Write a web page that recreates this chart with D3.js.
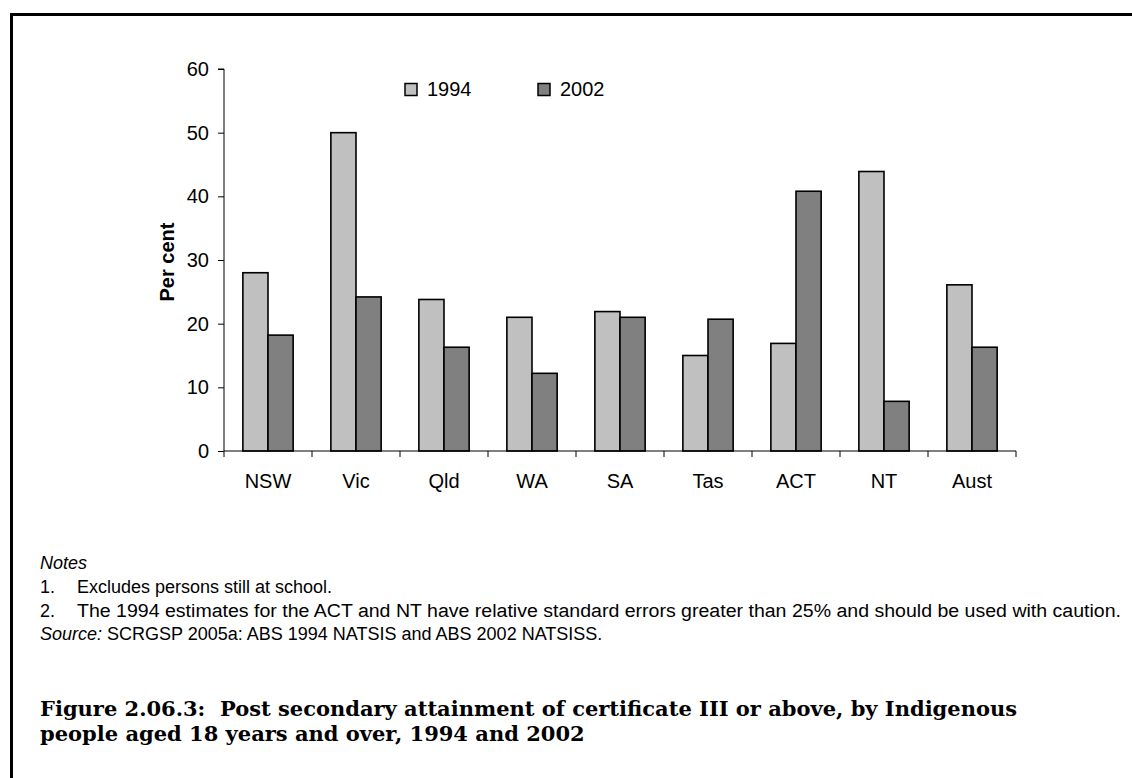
<!DOCTYPE html>
<html><head><meta charset="utf-8">
<script src="https://cdn.jsdelivr.net/npm/d3@7"></script>
<style>
html,body{margin:0;padding:0;background:#fff;}
svg{display:block;}
text{white-space:pre;}
</style></head>
<body>
<svg id="chart" width="1132" height="778"></svg>
<script>
const categories = ["NSW","Vic","Qld","WA","SA","Tas","ACT","NT","Aust"];
const seriesNames = ["1994","2002"];
const values1994 = [28, 50, 23.8, 21, 21.9, 15, 16.9, 43.9, 26.1];
const values2002 = [18.2, 24.2, 16.3, 12.2, 21, 20.7, 40.8, 7.8, 16.3];
const yTicks = [0,10,20,30,40,50,60];
const colors = ["#c0c0c0","#808080"];
const notes = ["Excludes persons still at school.",
  "The 1994 estimates for the ACT and NT have relative standard errors greater than 25% and should be used with caution."];
const sourceLabel = "Source:";
const sourceText = " SCRGSP 2005a: ABS 1994 NATSIS and ABS 2002 NATSISS.";
const titleLines = ["Figure 2.06.3:  Post secondary attainment of certificate III or above, by Indigenous",
  "people aged 18 years and over, 1994 and 2002"];

const svg = d3.select("#chart");
const sans = "'Liberation Sans', Arial, sans-serif";

// frame
svg.append("path").attr("d","M11.5,778 L11.5,14.5 L1132,14.5")
  .attr("fill","none").attr("stroke","#000").attr("stroke-width",3);

const x0 = 224, x1 = 1016, yTop = 69, yBot = 451;
const x = d3.scaleBand().domain(categories).range([x0,x1]).paddingInner(0).paddingOuter(0);
const y = d3.scaleLinear().domain([0,60]).range([yBot,yTop]);
const bw = x.bandwidth()/3.5;
const off = bw*0.75;

const data = categories.map((c,i)=>({c, v:[values1994[i], values2002[i]]}));

const g = svg.append("g");
data.forEach(d=>{
  d.v.forEach((v,j)=>{
    g.append("rect")
      .attr("x", x(d.c)+off + j*bw)
      .attr("y", y(v))
      .attr("width", bw)
      .attr("height", y(0)-y(v))
      .attr("fill", colors[j])
      .attr("stroke","#000").attr("stroke-width",1.6);
  });
});

// y axis
const yAxis = d3.axisLeft(y).tickValues(yTicks).tickSize(6).tickPadding(9).tickFormat(d3.format("d"));
const ya = svg.append("g").attr("transform",`translate(${x0},0)`).call(yAxis);
ya.select(".domain").attr("stroke","#000").attr("d",`M-6,${yTop}H0V${yBot}`);
ya.selectAll(".tick line").attr("stroke","#000");
ya.selectAll("text").attr("font-family",sans).attr("font-size",20).attr("fill","#000");

// x axis
const xa = svg.append("g").attr("transform",`translate(0,${yBot})`);
xa.append("line").attr("x1",x0).attr("x2",x1).attr("y1",0).attr("y2",0).attr("stroke","#000");
const bounds = categories.map(c=>x(c)).concat([x1]);
xa.selectAll("line.tk").data(bounds).enter().append("line").attr("class","tk")
  .attr("x1",d=>d).attr("x2",d=>d).attr("y1",0).attr("y2",6).attr("stroke","#000");
xa.selectAll("text").data(categories).enter().append("text")
  .attr("x",d=>x(d)+x.bandwidth()/2).attr("y",37)
  .attr("text-anchor","middle").attr("font-family",sans).attr("font-size",20).text(d=>d);

// y label
svg.append("text").attr("transform","translate(174,262) rotate(-90)")
  .attr("text-anchor","middle").attr("font-family",sans).attr("font-weight","bold")
  .attr("font-size",20).text("Per cent");

// legend
const legX = [405, 538];
seriesNames.forEach((s,i)=>{
  svg.append("rect").attr("x",legX[i]).attr("y",83.5).attr("width",12).attr("height",12)
    .attr("fill",colors[i]).attr("stroke","#000").attr("stroke-width",1.5);
  svg.append("text").attr("x",legX[i]+22).attr("y",96).attr("font-family",sans)
    .attr("font-size",20).text(s);
});

// notes
const nfs = 18;
svg.append("text").attr("x",40).attr("y",569).attr("font-family",sans).attr("font-size",nfs)
  .attr("font-style","italic").text("Notes");
notes.forEach((n,i)=>{
  const yy = 593+i*23.5;
  svg.append("text").attr("x",40).attr("y",yy).attr("font-family",sans).attr("font-size",nfs).text((i+1)+".");
  const t = svg.append("text").attr("x",77).attr("y",yy).attr("font-family",sans).attr("font-size",nfs).text(n);
  if (i===1) t.attr("textLength",1044).attr("lengthAdjust","spacingAndGlyphs");
});
const src = svg.append("text").attr("x",40).attr("y",640).attr("font-family",sans).attr("font-size",nfs);
src.append("tspan").attr("font-style","italic").text(sourceLabel);
src.append("tspan").text(sourceText);

titleLines.forEach((t,i)=>{
  const tt = svg.append("text").attr("x",40).attr("y",716+i*25).attr("font-family","'DejaVu Serif', serif")
    .attr("font-weight","bold").attr("font-size",21).text(t);
  if (i===0) tt.attr("textLength",977).attr("lengthAdjust","spacingAndGlyphs");
});
</script>
</body></html>
